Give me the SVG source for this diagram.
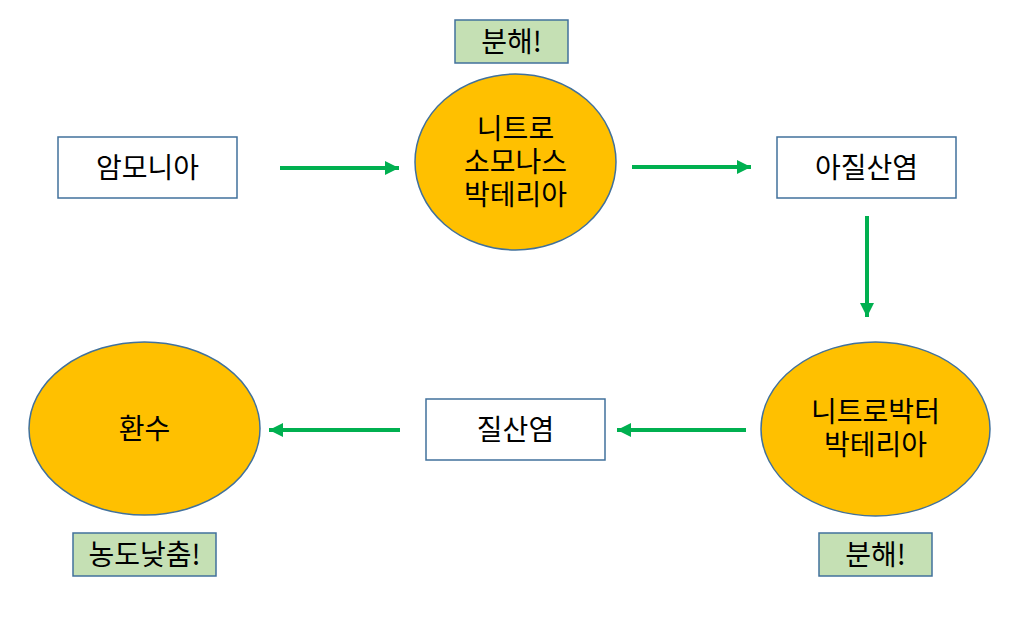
<svg xmlns="http://www.w3.org/2000/svg" width="1021" height="622" viewBox="0 0 1021 622">
<style>
.box{fill:#ffffff;stroke:#41719C;stroke-width:1.5}
.tag{fill:#C5E0B4;stroke:#41719C;stroke-width:1.5}
.ell{fill:#FFC000;stroke:#41719C;stroke-width:1.5}
.t{font-family:"Noto Sans CJK KR","Noto Sans",sans-serif;font-size:28px;fill:#000;text-anchor:middle;dominant-baseline:central}
.c{stroke:#00B050;stroke-width:4;fill:none}
</style>
<defs>
<marker id="ah" markerUnits="userSpaceOnUse" markerWidth="14" markerHeight="14" refX="14" refY="7" orient="auto">
<path d="M0,0 L14,7 L0,14 Z" fill="#00B050"/>
</marker>
</defs>
<rect width="1021" height="622" fill="#ffffff"/>
<g id="connectors">
<line class="c" x1="280" y1="168" x2="399" y2="168" marker-end="url(#ah)"/>
<line class="c" x1="632" y1="167" x2="751" y2="167" marker-end="url(#ah)"/>
<line class="c" x1="867" y1="216" x2="867" y2="317" marker-end="url(#ah)"/>
<line class="c" x1="746" y1="430" x2="617" y2="430" marker-end="url(#ah)"/>
<line class="c" x1="400" y1="430" x2="269" y2="430" marker-end="url(#ah)"/>
</g>
<g id="ammonia">
<rect class="box" x="58" y="137" width="179" height="61"/>
<text class="t" x="147.5" y="166">암모니아</text>
</g>
<g id="nitrosomonas">
<ellipse class="ell" cx="515.5" cy="162" rx="100.5" ry="88"/>
<text class="t" x="515.5" y="127">니트로</text>
<text class="t" x="515.5" y="160">소모나스</text>
<text class="t" x="515.5" y="193">박테리아</text>
</g>
<g id="tag-top">
<rect class="tag" x="455" y="20" width="113" height="43"/>
<text class="t" x="511.5" y="40">분해!</text>
</g>
<g id="nitrite">
<rect class="box" x="777" y="137" width="179" height="61"/>
<text class="t" x="866.5" y="166">아질산염</text>
</g>
<g id="nitrobacter">
<ellipse class="ell" cx="875.5" cy="429" rx="114.5" ry="87"/>
<text class="t" x="875.5" y="410">니트로박터</text>
<text class="t" x="875.5" y="443">박테리아</text>
</g>
<g id="tag-bottom">
<rect class="tag" x="819" y="533" width="113" height="43"/>
<text class="t" x="875.5" y="553">분해!</text>
</g>
<g id="nitrate">
<rect class="box" x="426" y="399" width="179" height="61"/>
<text class="t" x="515.5" y="428">질산염</text>
</g>
<g id="water-change">
<ellipse class="ell" cx="144.5" cy="428.5" rx="115.5" ry="86.5"/>
<text class="t" x="144.5" y="427">환수</text>
</g>
<g id="tag-left">
<rect class="tag" x="73" y="533" width="143" height="43"/>
<text class="t" x="144.5" y="553">농도낮춤!</text>
</g>
</svg>
